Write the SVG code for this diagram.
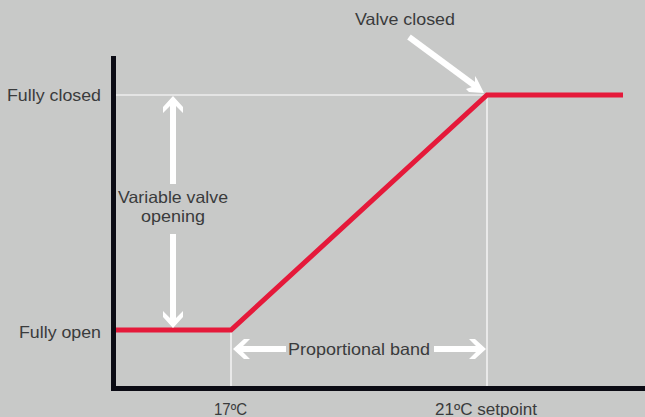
<svg xmlns="http://www.w3.org/2000/svg" width="645" height="417" viewBox="0 0 645 417">
<style>
.t{font-family:"Liberation Sans","Noto Sans",sans-serif;font-size:16.5px;fill:#3a3b3c}
.w{stroke:#fff;fill:none}
.ar{fill:#fff;stroke:none}
</style>
<rect width="645" height="417" fill="#c8c9c8"/>
<g id="guides">
<line class="w" x1="116" y1="95" x2="487" y2="95" stroke-width="1.2"/>
<line class="w" x1="487" y1="95" x2="487" y2="386" stroke-width="1.2"/>
<line class="w" x1="231" y1="330" x2="231" y2="386" stroke-width="1.2"/>
</g>
<g id="axes">
<line x1="113.5" y1="56" x2="113.5" y2="391" stroke="#0b0b14" stroke-width="5"/>
<line x1="111" y1="388.5" x2="645" y2="388.5" stroke="#0b0b14" stroke-width="5"/>
</g>
<g id="curve">
<polyline points="116,330 231,330 487,95 623,95" fill="none" stroke="#e5193a" stroke-width="5" stroke-linejoin="miter"/>
</g>
<g id="connectors">
<g id="arrow-variable">
<line class="w" x1="173" y1="102" x2="173" y2="184" stroke-width="6"/>
<polygon class="ar" points="173,96 183,107 183,113 176,106 170,106 163,113 163,107"/>
<line class="w" x1="173" y1="234" x2="173" y2="322" stroke-width="6"/>
<polygon class="ar" points="173,328 183,317 183,311 176,318 170,318 163,311 163,317"/>
</g>
<g id="arrow-band">
<line class="w" x1="238" y1="349" x2="286" y2="349" stroke-width="6"/>
<polygon class="ar" points="233,349 244,339 250,339 243,346 243,352 250,359 244,359"/>
<line class="w" x1="434" y1="349" x2="481" y2="349" stroke-width="6"/>
<polygon class="ar" points="486,349 475,339 469,339 476,346 476,352 469,359 475,359"/>
</g>
<g id="arrow-closed">
<line class="w" x1="409" y1="37" x2="478" y2="88" stroke-width="6"/>
<polygon class="ar" points="484,93 477,79 475,76 475,86 466,89 469,92"/>
</g>
</g>
<g id="labels">
<text class="t" x="7" y="101" textLength="94" lengthAdjust="spacingAndGlyphs">Fully closed</text>
<text class="t" x="19" y="338" textLength="82" lengthAdjust="spacingAndGlyphs">Fully open</text>
<text class="t" x="118" y="203" textLength="110" lengthAdjust="spacingAndGlyphs">Variable valve</text>
<text class="t" x="141" y="222" textLength="64" lengthAdjust="spacingAndGlyphs">opening</text>
<text class="t" x="288" y="355" textLength="142" lengthAdjust="spacingAndGlyphs">Proportional band</text>
<text class="t" x="355" y="25" textLength="100" lengthAdjust="spacingAndGlyphs">Valve closed</text>
<text class="t" x="214" y="415" textLength="33" lengthAdjust="spacingAndGlyphs">17ºC</text>
<text class="t" x="435" y="415" textLength="102" lengthAdjust="spacingAndGlyphs">21ºC setpoint</text>
</g>
</svg>
